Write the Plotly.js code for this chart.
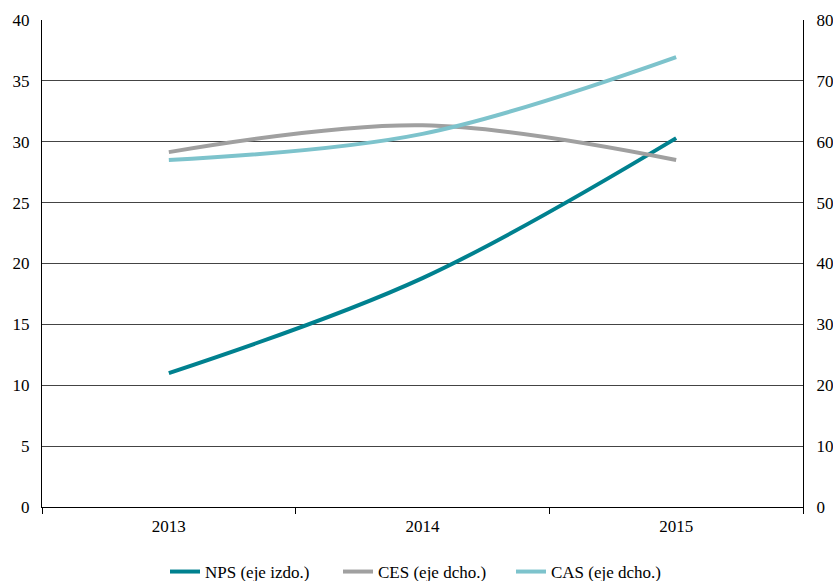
<!DOCTYPE html>
<html><head><meta charset="utf-8">
<script src="https://cdn.plot.ly/plotly-3.0.1.min.js"></script>
<style>body{margin:0;background:#fff}#c{width:833px;height:581px}</style>
</head><body><div id="c"></div>
<script>
const years = ['2013', '2014', '2015'];
const npsValues = [11.0, 18.8, 30.3];
const cesValues = [58.3, 62.7, 57.0];
const casValues = [57.0, 61.3, 73.9];
const seriesNames = ['NPS (eje izdo.)', 'CES (eje dcho.)', 'CAS (eje dcho.)'];

const fontFam = 'Liberation Serif, serif';
const traces = [
  {x: years, y: npsValues, name: seriesNames[0], type: 'scatter', mode: 'lines',
   line: {color: '#00818F', width: 4, shape: 'spline', smoothing: 1}, yaxis: 'y'},
  {x: years, y: cesValues, name: seriesNames[1], type: 'scatter', mode: 'lines',
   line: {color: '#A0A0A0', width: 4, shape: 'spline', smoothing: 1}, yaxis: 'y2'},
  {x: years, y: casValues, name: seriesNames[2], type: 'scatter', mode: 'lines',
   line: {color: '#7DC3CC', width: 4, shape: 'spline', smoothing: 1}, yaxis: 'y2'}
];
const layout = {
  width: 833, height: 581,
  margin: {l: 42, r: 30, t: 20, b: 74},
  paper_bgcolor: '#fff', plot_bgcolor: '#fff',
  font: {family: fontFam, size: 17, color: '#000'},
  showlegend: true,
  legend: {orientation: 'h', x: 165 / 833, xref: 'container', xanchor: 'left',
           y: 0.0155, yref: 'container', yanchor: 'middle',
           font: {family: fontFam, size: 17}, itemwidth: 30, tracegroupgap: 0,
           entrywidth: 128, entrywidthmode: 'pixels'},
  xaxis: {type: 'category', range: [-0.5, 2.5], showline: true, linecolor: '#000', linewidth: 1,
          ticks: 'outside', tickson: 'boundaries', ticklen: 6, tickcolor: '#000',
          showgrid: false, zeroline: false, fixedrange: true, ticklabelstandoff: 4,
          automargin: false},
  yaxis: {range: [0, 40], dtick: 5, showline: true, linecolor: '#000', linewidth: 1,
          showgrid: true, gridcolor: '#444', gridwidth: 1, zeroline: false,
          ticks: '', ticklabelstandoff: 8, automargin: false},
  yaxis2: {range: [0, 80], dtick: 10, overlaying: 'y', side: 'right', showline: true,
           linecolor: '#000', linewidth: 1, showgrid: false, zeroline: false,
           ticks: '', ticklabelstandoff: 9, automargin: false}
};
Plotly.newPlot('c', traces, layout, {displayModeBar: false, staticPlot: true});
</script></body></html>
